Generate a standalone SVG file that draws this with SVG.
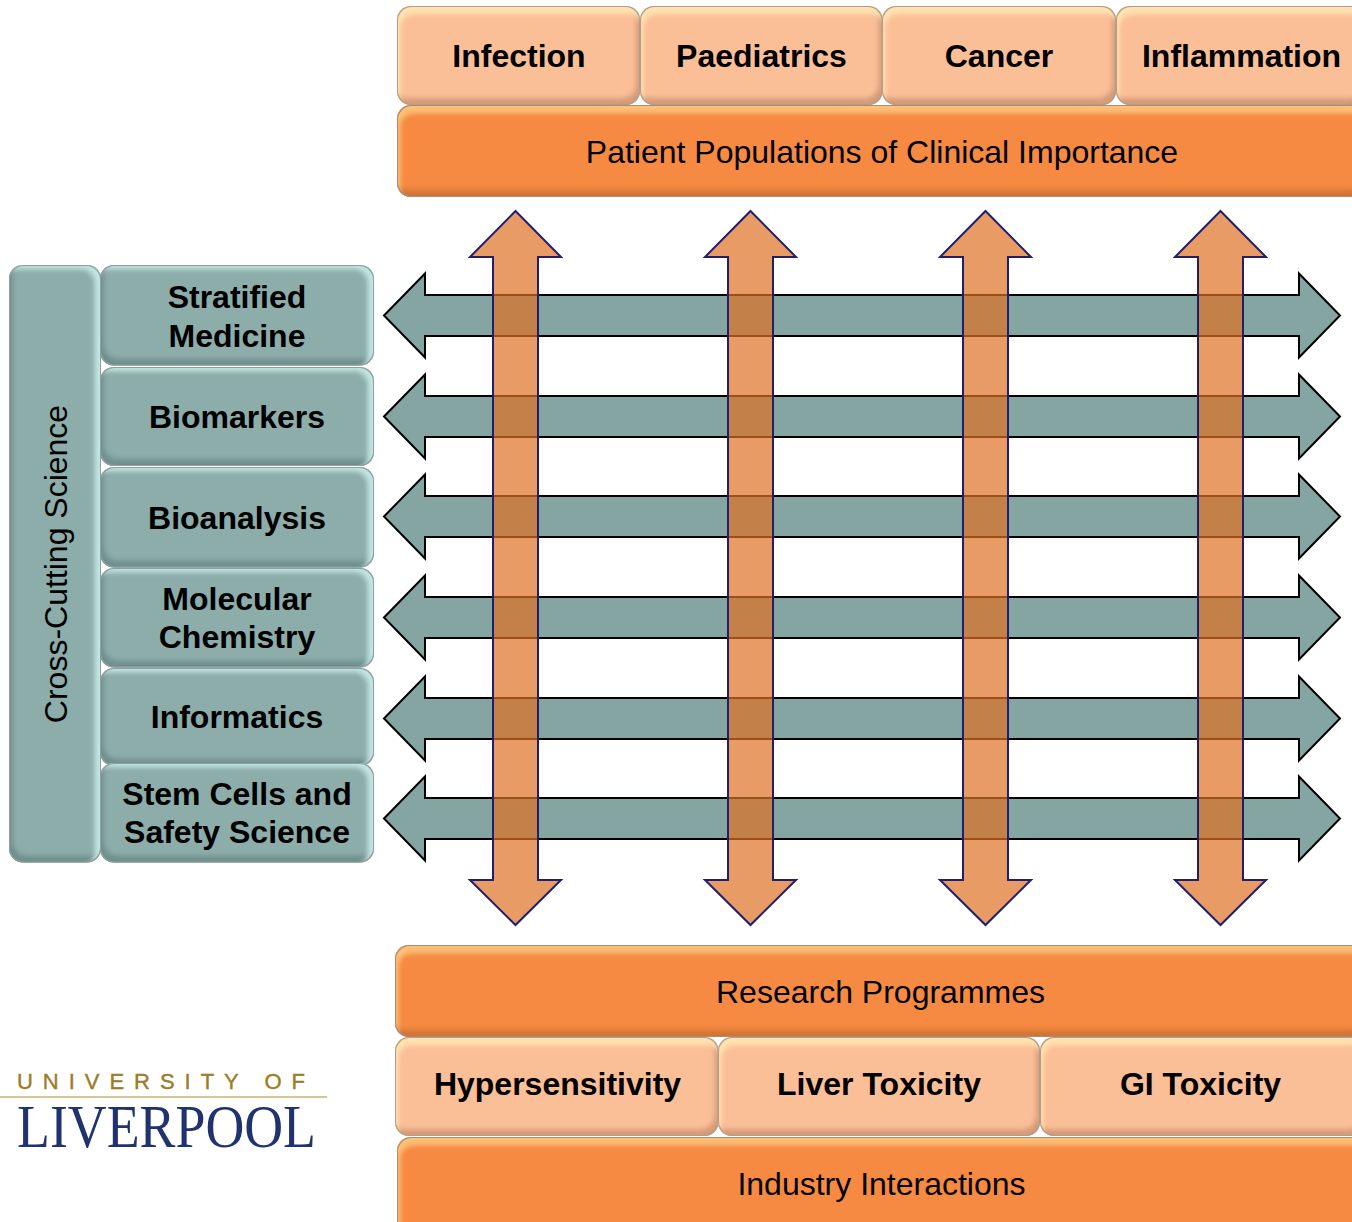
<svg xmlns="http://www.w3.org/2000/svg" width="1352" height="1222" viewBox="0 0 1352 1222">
<style>
text{font-family:"Liberation Sans",Arial,sans-serif;font-size:32px;fill:#000;text-anchor:middle}
.b{font-weight:bold}
.peach{fill:#fbbf98;filter:url(#bevelPeach)}
.orange{fill:#f68a43;filter:url(#bevelOrange)}
.teal{fill:#8dadaa;filter:url(#bevelTeal)}
.h{fill:#84a5a1;stroke:#000;stroke-width:2}
.v{fill:#e07024;fill-opacity:.7;stroke:#1f1f70;stroke-width:2}
</style>
<defs>
<filter id="bevelPeach" x="-5%" y="-10%" width="110%" height="120%">
<feGaussianBlur in="SourceAlpha" stdDeviation="2.5" result="b"/>
<feMorphology in="SourceAlpha" operator="erode" radius="1" result="er"/>
<feOffset in="b" dx="3" dy="8" result="o1"/>
<feFlood flood-color="#ffe2b0"/><feComposite in2="SourceAlpha" operator="in"/><feComposite in2="o1" operator="out" result="hi"/>
<feOffset in="b" dx="-4" dy="-7" result="o2"/>
<feFlood flood-color="#d49b78"/><feComposite in2="SourceAlpha" operator="in"/><feComposite in2="o2" operator="out" result="lo"/>
<feFlood flood-color="#b59c8a"/><feComposite in2="SourceAlpha" operator="in"/><feComposite in2="er" operator="out" result="ring"/>
<feMerge><feMergeNode in="SourceGraphic"/><feMergeNode in="lo"/><feMergeNode in="hi"/><feMergeNode in="ring"/></feMerge>
</filter>
<filter id="bevelOrange" x="-5%" y="-10%" width="110%" height="120%">
<feGaussianBlur in="SourceAlpha" stdDeviation="2.5" result="b"/>
<feMorphology in="SourceAlpha" operator="erode" radius="1" result="er"/>
<feOffset in="b" dx="3" dy="8" result="o1"/>
<feFlood flood-color="#ffc076"/><feComposite in2="SourceAlpha" operator="in"/><feComposite in2="o1" operator="out" result="hi"/>
<feOffset in="b" dx="-3" dy="-7" result="o2"/>
<feFlood flood-color="#cf7436"/><feComposite in2="SourceAlpha" operator="in"/><feComposite in2="o2" operator="out" result="lo"/>
<feFlood flood-color="#a98c78"/><feComposite in2="SourceAlpha" operator="in"/><feComposite in2="er" operator="out" result="ring"/>
<feMerge><feMergeNode in="SourceGraphic"/><feMergeNode in="lo"/><feMergeNode in="hi"/><feMergeNode in="ring"/></feMerge>
</filter>
<filter id="bevelTeal" x="-5%" y="-5%" width="110%" height="110%">
<feGaussianBlur in="SourceAlpha" stdDeviation="2.5" result="b"/>
<feMorphology in="SourceAlpha" operator="erode" radius="1" result="er"/>
<feOffset in="b" dx="-6" dy="4" result="o1"/>
<feFlood flood-color="#c2e6e2"/><feComposite in2="SourceAlpha" operator="in"/><feComposite in2="o1" operator="out" result="hi"/>
<feOffset in="b" dx="4" dy="-7" result="o2"/>
<feFlood flood-color="#6f8f8d"/><feComposite in2="SourceAlpha" operator="in"/><feComposite in2="o2" operator="out" result="lo"/>
<feFlood flood-color="#8f9f9e"/><feComposite in2="SourceAlpha" operator="in"/><feComposite in2="er" operator="out" result="ring"/>
<feMerge><feMergeNode in="SourceGraphic"/><feMergeNode in="lo"/><feMergeNode in="hi"/><feMergeNode in="ring"/></feMerge>
</filter>
<path id="ha" d="M384 0L425-42V-20.500H1299V-42L1340 0L1299 42V20.500H425V42Z"/>
<path id="va" d="M0 211L45.500 257H22.500V880H45.500L0 925L-45.500 880H-22.500V257H-45.500Z"/>
</defs>

<g id="connectors">
<use href="#ha" class="h" y="315.500"/>
<use href="#ha" class="h" y="416.500"/>
<use href="#ha" class="h" y="516.500"/>
<use href="#ha" class="h" y="617.500"/>
<use href="#ha" class="h" y="718.500"/>
<use href="#ha" class="h" y="818.500"/>
<use href="#va" class="v" x="515.500"/>
<use href="#va" class="v" x="750.500"/>
<use href="#va" class="v" x="985.500"/>
<use href="#va" class="v" x="1220.500"/>
</g>

<g id="node-infection"><rect class="peach" x="397" y="6" width="243" height="99" rx="14"/><text class="b" x="519" y="67">Infection</text></g>
<g id="node-paediatrics"><rect class="peach" x="640" y="6" width="242.500" height="99" rx="14"/><text class="b" x="761.500" y="67">Paediatrics</text></g>
<g id="node-cancer"><rect class="peach" x="882" y="6" width="234" height="99" rx="14"/><text class="b" x="999" y="67">Cancer</text></g>
<g id="node-inflammation"><rect class="peach" x="1116" y="6" width="252" height="99" rx="14"/><text class="b" x="1241.500" y="67">Inflammation</text></g>
<g id="node-patient-populations"><rect class="orange" x="397" y="105" width="971" height="92" rx="14"/><text x="882" y="163">Patient Populations of Clinical Importance</text></g>

<g id="node-cross-cutting"><rect class="teal" x="9" y="265" width="92" height="597.500" rx="14"/><text transform="translate(67 564) rotate(-90)">Cross-Cutting Science</text></g>
<g id="node-stratified"><rect class="teal" x="100" y="265" width="274" height="100.500" rx="14"/><text class="b" x="237" y="308">Stratified</text><text class="b" x="237" y="347">Medicine</text></g>
<g id="node-biomarkers"><rect class="teal" x="100" y="367" width="274" height="99" rx="14"/><text class="b" x="237" y="428">Biomarkers</text></g>
<g id="node-bioanalysis"><rect class="teal" x="100" y="467" width="274" height="100.500" rx="14"/><text class="b" x="237" y="529">Bioanalysis</text></g>
<g id="node-molecular"><rect class="teal" x="100" y="568" width="274" height="99.500" rx="14"/><text class="b" x="237" y="610">Molecular</text><text class="b" x="237" y="648">Chemistry</text></g>
<g id="node-informatics"><rect class="teal" x="100" y="668" width="274" height="98" rx="14"/><text class="b" x="237" y="728">Informatics</text></g>
<g id="node-stem-cells"><rect class="teal" x="100" y="763" width="274" height="99.500" rx="14"/><text class="b" x="237" y="805">Stem Cells and</text><text class="b" x="237" y="843">Safety Science</text></g>

<g id="node-research"><rect class="orange" x="395" y="945" width="973" height="92" rx="14"/><text x="880.500" y="1003">Research Programmes</text></g>
<g id="node-hypersensitivity"><rect class="peach" x="395" y="1037" width="323.500" height="99" rx="14"/><text class="b" x="557.500" y="1095">Hypersensitivity</text></g>
<g id="node-liver"><rect class="peach" x="718" y="1037" width="322" height="99" rx="14"/><text class="b" x="879" y="1095">Liver Toxicity</text></g>
<g id="node-gi"><rect class="peach" x="1040" y="1037" width="326" height="99" rx="14"/><text class="b" x="1200.500" y="1095">GI Toxicity</text></g>
<g id="node-industry"><rect class="orange" x="397" y="1137" width="971" height="106" rx="14"/><text x="881.500" y="1195">Industry Interactions</text></g>

<g id="logo">
<text x="17" y="1089" textLength="288" lengthAdjust="spacing" style="font-size:22px;fill:#9c7c28;stroke:#9c7c28;stroke-width:.4;text-anchor:start">UNIVERSITY OF</text>
<rect x="0" y="1096" width="327" height="2" fill="#d8c594"/>
<text x="17" y="1147" textLength="299" lengthAdjust="spacingAndGlyphs" style="font-family:'Liberation Serif',serif;font-size:62px;fill:#20336f;text-anchor:start">LIVERPOOL</text>
</g>
</svg>
